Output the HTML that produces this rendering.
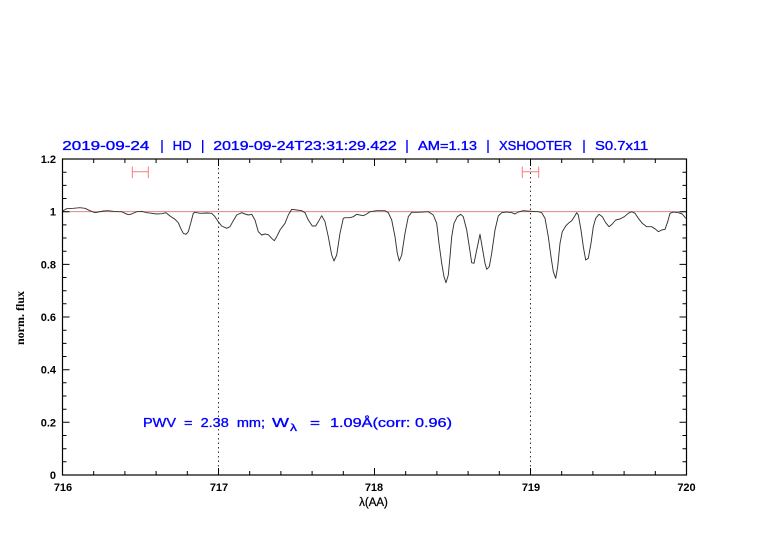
<!DOCTYPE html>
<html>
<head>
<meta charset="utf-8">
<style>
html,body{margin:0;padding:0;background:#fff;}
svg{display:block;}
</style>
</head>
<body>
<svg width="782" height="542" viewBox="0 0 782 542" xmlns="http://www.w3.org/2000/svg">
<rect width="782" height="542" fill="#fff"/>

<!-- title -->
<g font-family="Liberation Sans, sans-serif" font-size="12.5" fill="#0000ff" stroke="#0000ff" stroke-width="0.35">
  <text x="62.3" y="150" textLength="87" lengthAdjust="spacingAndGlyphs">2019-09-24</text>
  <text x="172.7" y="150" textLength="19" lengthAdjust="spacingAndGlyphs">HD</text>
  <text x="213.3" y="150" textLength="183.4" lengthAdjust="spacingAndGlyphs">2019-09-24T23:31:29.422</text>
  <text x="418" y="150" textLength="59" lengthAdjust="spacingAndGlyphs">AM=1.13</text>
  <text x="499" y="150" textLength="73" lengthAdjust="spacingAndGlyphs">XSHOOTER</text>
  <text x="595" y="150" textLength="53.3" lengthAdjust="spacingAndGlyphs">S0.7x11</text>
</g>
<g stroke="#0000ff" stroke-width="1.4">
  <line x1="162" y1="140" x2="162" y2="153"/>
  <line x1="202.7" y1="140" x2="202.7" y2="153"/>
  <line x1="407" y1="140" x2="407" y2="153"/>
  <line x1="488" y1="140" x2="488" y2="153"/>
  <line x1="584" y1="140" x2="584" y2="153"/>
</g>

<!-- dotted verticals -->
<g stroke="#333" stroke-width="1" stroke-dasharray="1.5,3">
  <line x1="218.5" y1="159" x2="218.5" y2="475"/>
  <line x1="530.5" y1="159" x2="530.5" y2="475"/>
</g>

<!-- reference line -->
<line x1="62.5" y1="211.7" x2="686.5" y2="211.7" stroke="#e07070" stroke-width="0.9"/>

<!-- error bars -->
<g stroke="#ff7a7a" stroke-width="1">
  <line x1="132.3" y1="171.7" x2="148.3" y2="171.7"/>
  <line x1="132.3" y1="166.5" x2="132.3" y2="178"/>
  <line x1="148.3" y1="166.5" x2="148.3" y2="178"/>
  <line x1="522.3" y1="171.7" x2="538.7" y2="171.7"/>
  <line x1="522.3" y1="166.5" x2="522.3" y2="178"/>
  <line x1="538.7" y1="166.5" x2="538.7" y2="178"/>
</g>

<!-- spectrum -->
<polyline fill="none" stroke="#333" stroke-width="0.95" stroke-linejoin="round" points="62.7,211 66.7,208.7 73.3,208.3 80,207.7 85,208.3 90,210.7 95,212.7 98.3,212 103.3,211 108.3,210.7 113.3,211.3 118.3,211.7 121.7,211.7 125,213.3 128.3,214.7 131.7,214 136.7,211.7 141.7,211.3 146.7,212.7 151.7,213.3 156.7,214 161.7,213.7 166,212.7 170,216 175,219.3 178.3,222.7 180.7,228.3 183.3,233.3 186,234.3 188.3,231.7 190.7,223.3 193.3,213.3 195,212.3 200,213.3 206.7,213 211.7,213.3 215,216.7 218.3,221.7 221.7,226 226.7,228.3 230,226.7 233.3,220.7 236.7,215 241.7,212.7 245,214 248.3,215 251.7,214.3 255,220 258.3,231.7 261.7,235 265,234 268.3,234.7 271.7,238.3 274.3,240.7 276.7,236.7 280,230 285,223.3 288.3,215 291.7,209.3 296.7,210 301.7,210.7 305,212.7 308.3,220 312.3,226 315.7,226 318.3,221.7 321.7,215.7 325,221.7 328.3,236.7 331.7,255 334,261 336.7,255 340,233.3 343.3,218.3 345,217.7 350,217.7 353.3,216.7 356.7,214.3 360,215 363.3,215.7 366.7,214 370,211.7 376.7,210.7 385,210.7 388.3,212.7 391.7,220 395,236.7 397.3,253.3 399.3,261 401.7,255 405,233.3 408.3,216.7 411.7,212.3 416.7,212.3 423.3,212 428.3,211.7 433.3,215 436.7,223.3 439,243.3 441.7,263.3 444,276.7 446,282.7 448.3,275 450,256.7 451.7,236.7 454,223.3 457.3,216.7 460.7,214.3 463.3,216.7 466.7,230 469.3,246.7 471.7,262.7 474,263.3 476.7,250 480,234.3 482.7,250 485,263.3 486.7,269.3 489.3,266.7 491.7,253.3 495,230 498.3,216 501.7,212.7 506.7,212 511.7,212.7 515,214 518.3,212 523.3,210.7 526.7,211 531.7,211.3 538.3,211.7 541.7,212.7 545,218.3 548.3,236.7 551,256.7 553.3,271.7 555.7,278.3 557.7,266.7 560,243.3 562.3,231.7 565.7,226 569,222.7 571.7,220.7 574.3,216.7 576.7,212.7 578.3,215 581,230 583.3,246.7 585.7,260 588.3,258.3 591,243.3 593.3,226.7 595.7,218.3 599,214.3 602.3,216.7 605.7,222.7 609,226.7 612.3,224 615.7,220 620,219 624.3,216.7 628.3,213.3 631.7,211.7 635,213.3 638.3,218.3 642.3,223.3 646.7,226.7 651.7,226.7 655.7,229.3 658.3,231.7 661.7,230 665,229.3 667.7,221.7 670,213.3 673.3,212 678.3,212.7 682.3,214 685.7,218.3"/>

<!-- frame -->
<rect x="62.5" y="159" width="624" height="316" fill="none" stroke="#000" stroke-width="1.2"/>

<!-- ticks -->
<g stroke="#000" stroke-width="1">
  <path d="M62.5 475v-7M93.7 475v-4M124.9 475v-4M156.1 475v-4M187.3 475v-4M218.5 475v-7M249.7 475v-4M280.9 475v-4M312.1 475v-4M343.3 475v-4M374.5 475v-7M405.7 475v-4M436.9 475v-4M468.1 475v-4M499.3 475v-4M530.5 475v-7M561.7 475v-4M592.9 475v-4M624.1 475v-4M655.3 475v-4M686.5 475v-7"/>
  <path d="M62.5 159v7M93.7 159v4M124.9 159v4M156.1 159v4M187.3 159v4M218.5 159v7M249.7 159v4M280.9 159v4M312.1 159v4M343.3 159v4M374.5 159v7M405.7 159v4M436.9 159v4M468.1 159v4M499.3 159v4M530.5 159v7M561.7 159v4M592.9 159v4M624.1 159v4M655.3 159v4M686.5 159v7"/>
  <path d="M62.5 475h7M62.5 461.8h4M62.5 448.7h4M62.5 435.5h4M62.5 422.3h7M62.5 409.2h4M62.5 396h4M62.5 382.8h4M62.5 369.7h7M62.5 356.5h4M62.5 343.4h4M62.5 330.2h4M62.5 317h7M62.5 303.8h4M62.5 290.7h4M62.5 277.5h4M62.5 264.4h7M62.5 251.2h4M62.5 238h4M62.5 224.9h4M62.5 211.7h7M62.5 198.5h4M62.5 185.4h4M62.5 172.2h4M62.5 159h7"/>
  <path d="M686.5 475h-7M686.5 461.8h-4M686.5 448.7h-4M686.5 435.5h-4M686.5 422.3h-7M686.5 409.2h-4M686.5 396h-4M686.5 382.8h-4M686.5 369.7h-7M686.5 356.5h-4M686.5 343.4h-4M686.5 330.2h-4M686.5 317h-7M686.5 303.8h-4M686.5 290.7h-4M686.5 277.5h-4M686.5 264.4h-7M686.5 251.2h-4M686.5 238h-4M686.5 224.9h-4M686.5 211.7h-7M686.5 198.5h-4M686.5 185.4h-4M686.5 172.2h-4M686.5 159h-7"/>
</g>

<!-- y tick labels -->
<g font-family="Liberation Sans, sans-serif" font-size="11" font-weight="bold" fill="#000" text-anchor="end">
  <text x="56" y="479">0</text>
  <text x="56" y="426.3">0.2</text>
  <text x="56" y="373.7">0.4</text>
  <text x="56" y="321">0.6</text>
  <text x="56" y="268.4">0.8</text>
  <text x="56" y="215.7">1</text>
  <text x="56" y="163">1.2</text>
</g>

<!-- x tick labels -->
<g font-family="Liberation Sans, sans-serif" font-size="11" font-weight="bold" fill="#000" text-anchor="middle">
  <text x="63" y="491">716</text>
  <text x="219" y="491">717</text>
  <text x="374" y="491">718</text>
  <text x="531" y="491">719</text>
  <text x="686.5" y="491">720</text>
  <text x="373.5" y="506" stroke="#000" stroke-width="0.25" font-weight="normal" font-size="11.5">λ(AA)</text>
</g>

<!-- y label -->
<text transform="translate(24,318) rotate(-90)" font-family="Liberation Serif, serif" font-size="12" font-weight="bold" fill="#000" text-anchor="middle">norm. flux</text>

<!-- annotation -->
<g font-family="Liberation Sans, sans-serif" font-size="13" fill="#0000ff" stroke="#0000ff" stroke-width="0.3">
  <text x="143" y="427" textLength="122" lengthAdjust="spacingAndGlyphs" xml:space="preserve">PWV  =  2.38  mm;</text>
  <text x="272" y="427" textLength="17" lengthAdjust="spacingAndGlyphs">W</text>
  <text x="290" y="431" font-size="10" textLength="7" lengthAdjust="spacingAndGlyphs">λ</text>
  <text x="310" y="427" textLength="10" lengthAdjust="spacingAndGlyphs">=</text>
  <text x="330" y="427" textLength="122" lengthAdjust="spacingAndGlyphs">1.09Å(corr: 0.96)</text>
</g>
</svg>
</body>
</html>
